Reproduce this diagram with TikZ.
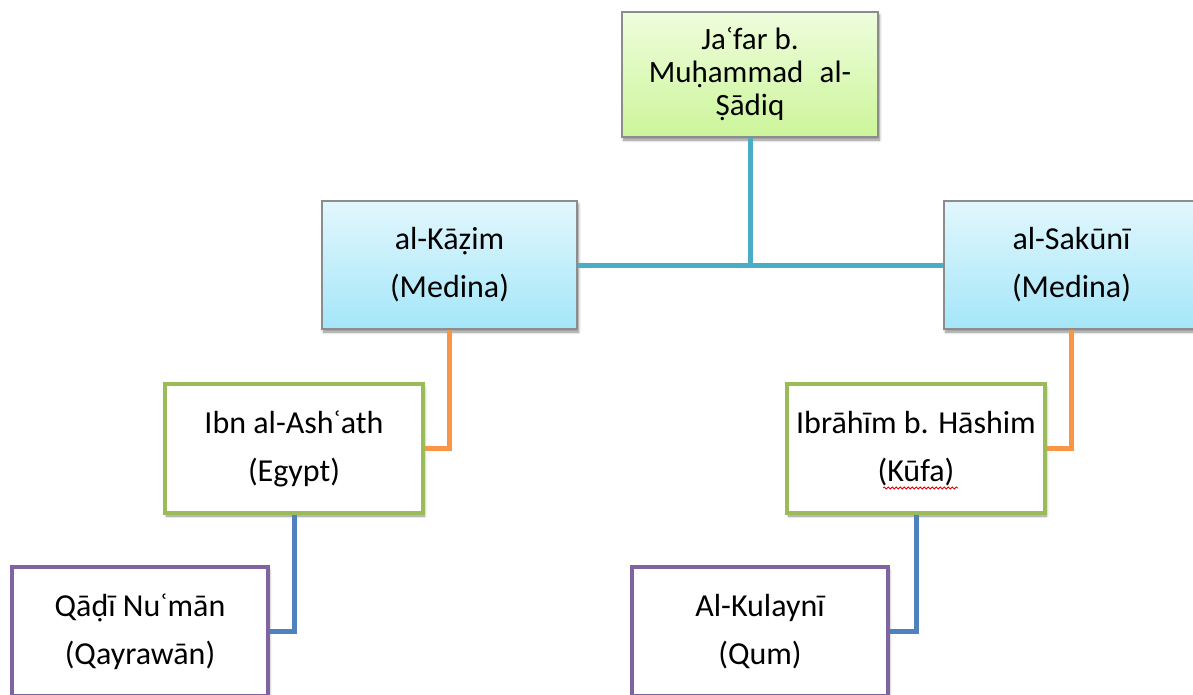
\documentclass[tikz,border=0pt]{standalone}
\usepackage{fontspec}
\setmainfont{Carlito}
\usetikzlibrary{shadows.blur,decorations.pathmorphing}

\definecolor{boxgray}{HTML}{8C8C8C}
\definecolor{greentop}{HTML}{EEFDDC}
\definecolor{greenbot}{HTML}{CCF59A}
\definecolor{bluetop}{HTML}{E2F7FD}
\definecolor{bluebot}{HTML}{A4E6F9}
\definecolor{teal}{HTML}{4BACC6}
\definecolor{orangeline}{HTML}{F79646}
\definecolor{blueline}{HTML}{4F81BD}
\definecolor{greenedge}{HTML}{9BBB59}
\definecolor{purpleedge}{HTML}{8064A2}

\tikzset{
  soft/.style={blur shadow={shadow xshift=1.5pt, shadow yshift=-3pt,
      shadow blur steps=6, shadow blur radius=2.5pt, shadow opacity=45}},
  basebox/.style={rectangle, inner sep=0pt, align=center,
      font=\fontsize{32}{48}\selectfont},
  rootbox/.style={basebox, soft, draw=boxgray, line width=2.5pt,
      top color=greentop, bottom color=greenbot,
      minimum width=256, minimum height=125,
      font=\fontsize{31}{33}\selectfont},
  citybox/.style={basebox, soft, draw=boxgray, line width=2.5pt,
      top color=bluetop, bottom color=bluebot,
      minimum width=255, minimum height=128},
  pupilbox/.style={basebox, soft, draw=greenedge, line width=4pt, fill=white,
      minimum width=258, minimum height=129},
  authorbox/.style={basebox, soft, draw=purpleedge, line width=4pt, fill=white,
      minimum width=256, minimum height=129},
  link/.style={line width=5pt},
}

\begin{document}
\begin{tikzpicture}[x=1pt, y=-1pt]
  \useasboundingbox (0,0) rectangle (1193,694);
  \clip (0,0) rectangle (1193,694);

  % box centres
  \coordinate (rootc) at (750,74.5);
  \coordinate (kazc) at (449.5,265);
  \coordinate (sakc) at (1071.5,265);
  \coordinate (ashc) at (294,448.5);
  \coordinate (ibrc) at (916,448.5);
  \coordinate (qadc) at (140,631.5);
  \coordinate (kulc) at (760,631.5);

  \node[rootbox] (root) at (rootc) {Jaʿfar b.\\Muḥammad\hspace{0.3em} al-\\Ṣādiq};
  \node[citybox] (kaz) at (kazc) {al-Kāẓim\\(Medina)};
  \node[citybox] (sak) at (sakc) {al-Sakūnī\\(Medina)};
  \node[pupilbox] (ash) at (ashc) {Ibn al-Ashʿath\\(Egypt)};
  \node[pupilbox] (ibr) at (ibrc) {Ibrāhīm b. Hāshim\\(Kūfa)};
  \node[authorbox] (qad) at (qadc) {Qāḍī Nuʿmān\\(Qayrawān)};
  \node[authorbox] (kul) at (kulc) {Al-Kulaynī\\(Qum)};

  % teal links from the root down to the two Medina boxes
  \draw[link, teal] (root.south) -- (root.south |- kaz.east);
  \draw[link, teal] (kaz.east) -- (sak.west);

  % orange elbows to the second generation
  \draw[link, orangeline] (kaz.south) |- (ash.east);
  \draw[link, orangeline] (sak.south) |- (ibr.east);

  % blue elbows to the compilers
  \draw[link, blueline] (ash.south) |- (qad.east);
  \draw[link, blueline] (ibr.south) |- (kul.east);

  % spell-check squiggle under Kufa
  \draw[red!85!black, line width=0.8pt,
        decorate, decoration={snake, segment length=4pt, amplitude=1pt}]
        (883,488) -- (958,488);
\end{tikzpicture}
\end{document}
